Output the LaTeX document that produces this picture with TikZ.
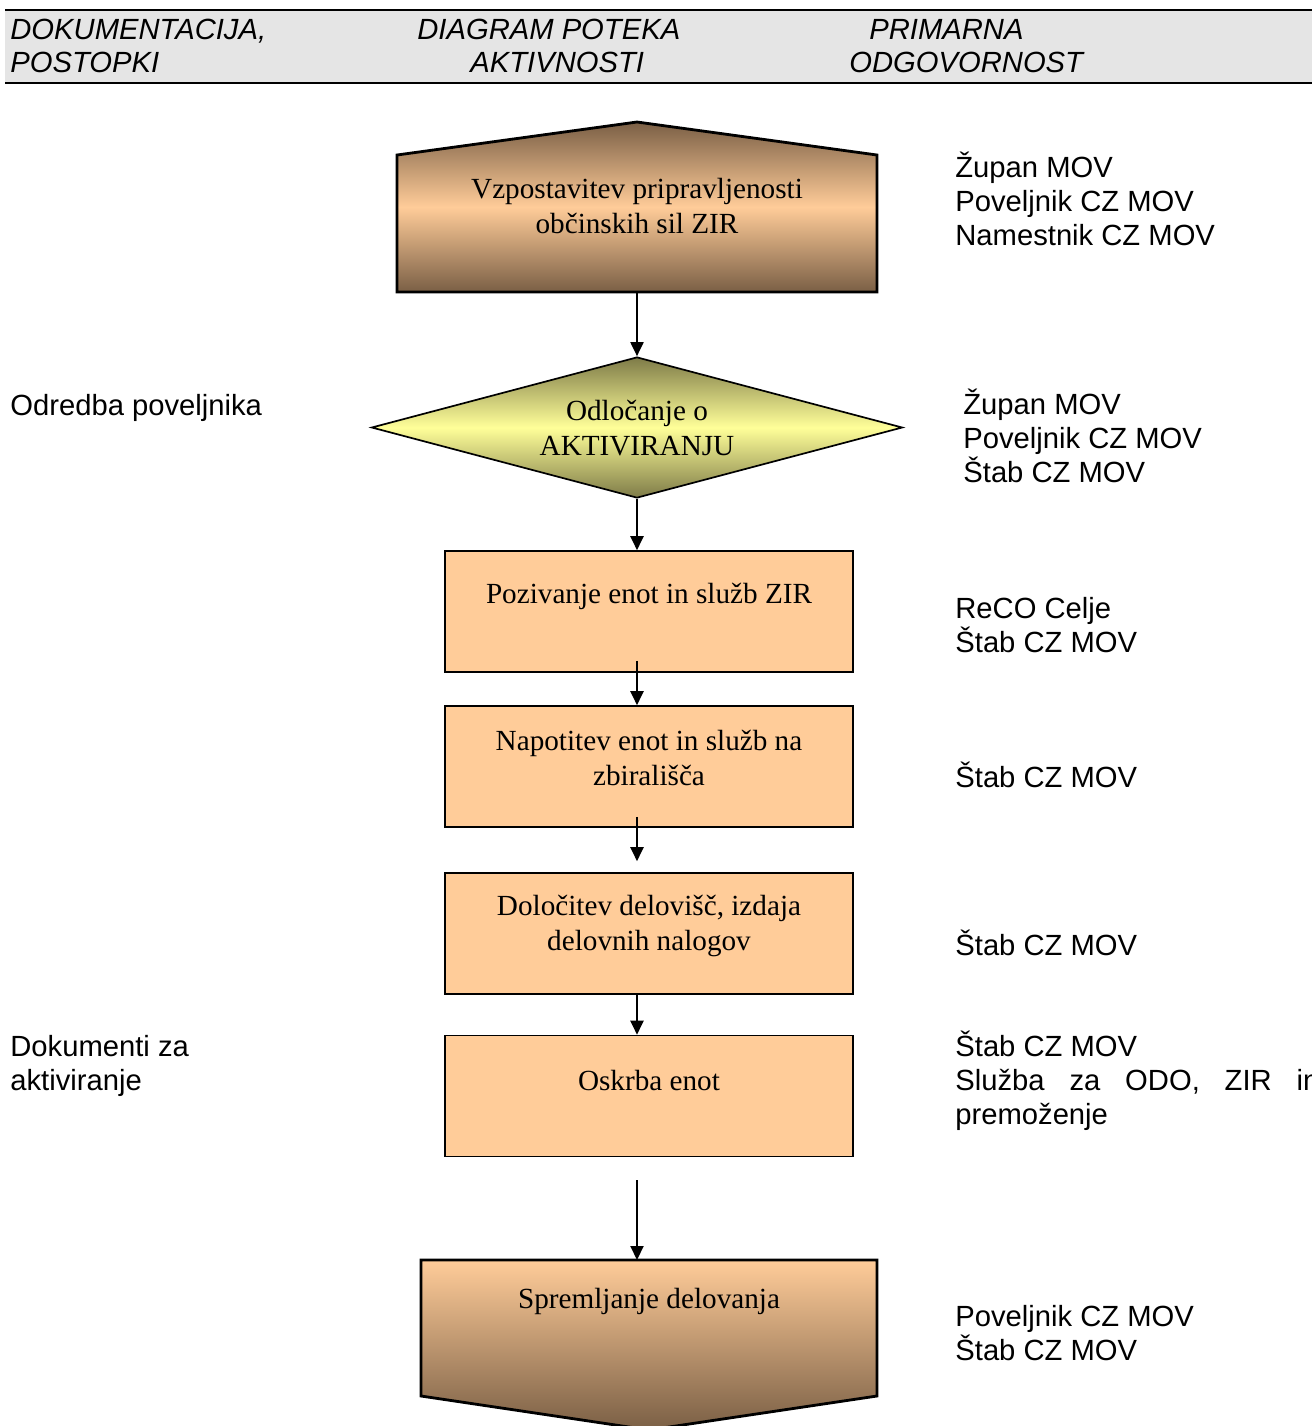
\documentclass[tikz,border=0pt]{standalone}
\usepackage{fontspec}
\setmainfont{Liberation Serif}
\setsansfont{Liberation Sans}
\usetikzlibrary{shapes.geometric,arrows.meta}
\definecolor{boxtan}{HTML}{FFCC99}
\definecolor{pentdark}{HTML}{7A5F45}
\definecolor{diayellow}{HTML}{FFFF99}
\definecolor{diadark}{HTML}{7E7B48}

\begin{document}
\begin{tikzpicture}[x=0.5pt, y=-0.5pt,
  boxtext/.style={font=\fontsize{14.6}{17.2}\selectfont, align=center, anchor=base, inner sep=0pt},
  sidetext/.style={font=\sffamily\fontsize{14.6}{16.8}\selectfont, align=left, anchor=base west, inner sep=0pt},
  headtext/.style={font=\sffamily\itshape\fontsize{14.6}{16.5}\selectfont, align=left, anchor=base west, inner sep=0pt},
  activity/.style={draw, line width=0.8pt, fill=boxtan, minimum width=204pt, minimum height=60.5pt, inner sep=0pt},
  flow/.style={line width=1pt, -{Triangle[length=7pt, width=6.5pt]}}]
\useasboundingbox (0,0) rectangle (1312,1426);

% header
\fill[gray!20] (5,10) rectangle (1312,83);
\draw[line width=1.3pt] (5,10) -- (1312,10);
\draw[line width=1pt] (5,83) -- (1312,83);
\node[headtext] (hdoc) at (10,72) {DOKUMENTACIJA,\\POSTOPKI};
\node[headtext] (hdia) at (417,72) {DIAGRAM POTEKA\\\hspace*{26.5pt}AKTIVNOSTI};
\node[headtext] (hodg) at (849,72) {\hspace*{10pt}PRIMARNA\\ODGOVORNOST};

% start and end shapes
\draw[line width=1.4pt, top color=pentdark, bottom color=pentdark, middle color=boxtan]
  (397,155) -- (637,122) -- (877,155) -- (877,292) -- (397,292) -- cycle;
\coordinate (start) at (637,292);
\node[boxtext] (starttext) at (637,233) {Vzpostavitev pripravljenosti\\občinskih sil ZIR};

\draw[line width=1.4pt, top color=boxtan, bottom color=pentdark]
  (421,1260) -- (877,1260) -- (877,1396) -- (649,1430) -- (421,1396) -- cycle;
\coordinate (finish) at (637,1260);
\node[boxtext] (finishtext) at (649,1308) {Spremljanje delovanja};

% decision and activities
\node[draw, diamond, aspect=3.77, line width=0.85pt, minimum width=265.5pt, minimum height=70.5pt,
  inner sep=0pt, top color=diadark, bottom color=diadark, middle color=diayellow] (decide) at (637,427.5) {};
\node[boxtext] (decidetext) at (637,455) {Odločanje o\\AKTIVIRANJU};

\node[activity] (call) at (649,611.5) {};
\node[activity] (send) at (649,766.5) {};
\node[activity] (assign) at (649,933.5) {};
\node[activity] (supply) at (649,1096) {};
\node[boxtext] (calltext) at (649,603) {Pozivanje enot in služb ZIR};
\node[boxtext] (sendtext) at (649,785) {Napotitev enot in služb na\\zbirališča};
\node[boxtext] (assigntext) at (649,950) {Določitev delovišč, izdaja\\delovnih nalogov};
\node[boxtext] (supplytext) at (649,1090) {Oskrba enot};

% connectors
\draw[flow] (start) -- (decide.north);
\draw[flow] (decide.south) -- ([xshift=-6pt]call.north);
\draw[flow] ([shift={(-6pt,6pt)}]call.south) -- ([xshift=-6pt]send.north);
\draw[flow] ([shift={(-6pt,5.5pt)}]send.south) -- ([shift={(-6pt,5.5pt)}]assign.north);
\draw[flow] ([xshift=-6pt]assign.south) -- ([xshift=-6pt]supply.north);
\draw[flow] ([shift={(-6pt,-11.5pt)}]supply.south) -- (finish);

% left column
\node[sidetext] (rule) at (10,415) {Odredba poveljnika};
\node[sidetext] (docs) at (10,1090) {Dokumenti za\\aktiviranje};

% right column
\node[sidetext] (respa) at (955,245) {Župan MOV\\Poveljnik CZ MOV\\Namestnik CZ MOV};
\node[sidetext] (respb) at (963,482) {Župan MOV\\Poveljnik CZ MOV\\Štab CZ MOV};
\node[sidetext] (respc) at (955,652) {ReCO Celje\\Štab CZ MOV};
\node[sidetext] (respd) at (955,787) {Štab CZ MOV};
\node[sidetext] (respe) at (955,955) {Štab CZ MOV};
\node[sidetext] (respf) at (955,1124) {Štab CZ MOV\\\hbox to 182pt{Služba\hfill za\hfill ODO,\hfill ZIR\hfill in}\\premoženje};
\node[sidetext] (respg) at (955,1360) {Poveljnik CZ MOV\\Štab CZ MOV};
\end{tikzpicture}
\end{document}
